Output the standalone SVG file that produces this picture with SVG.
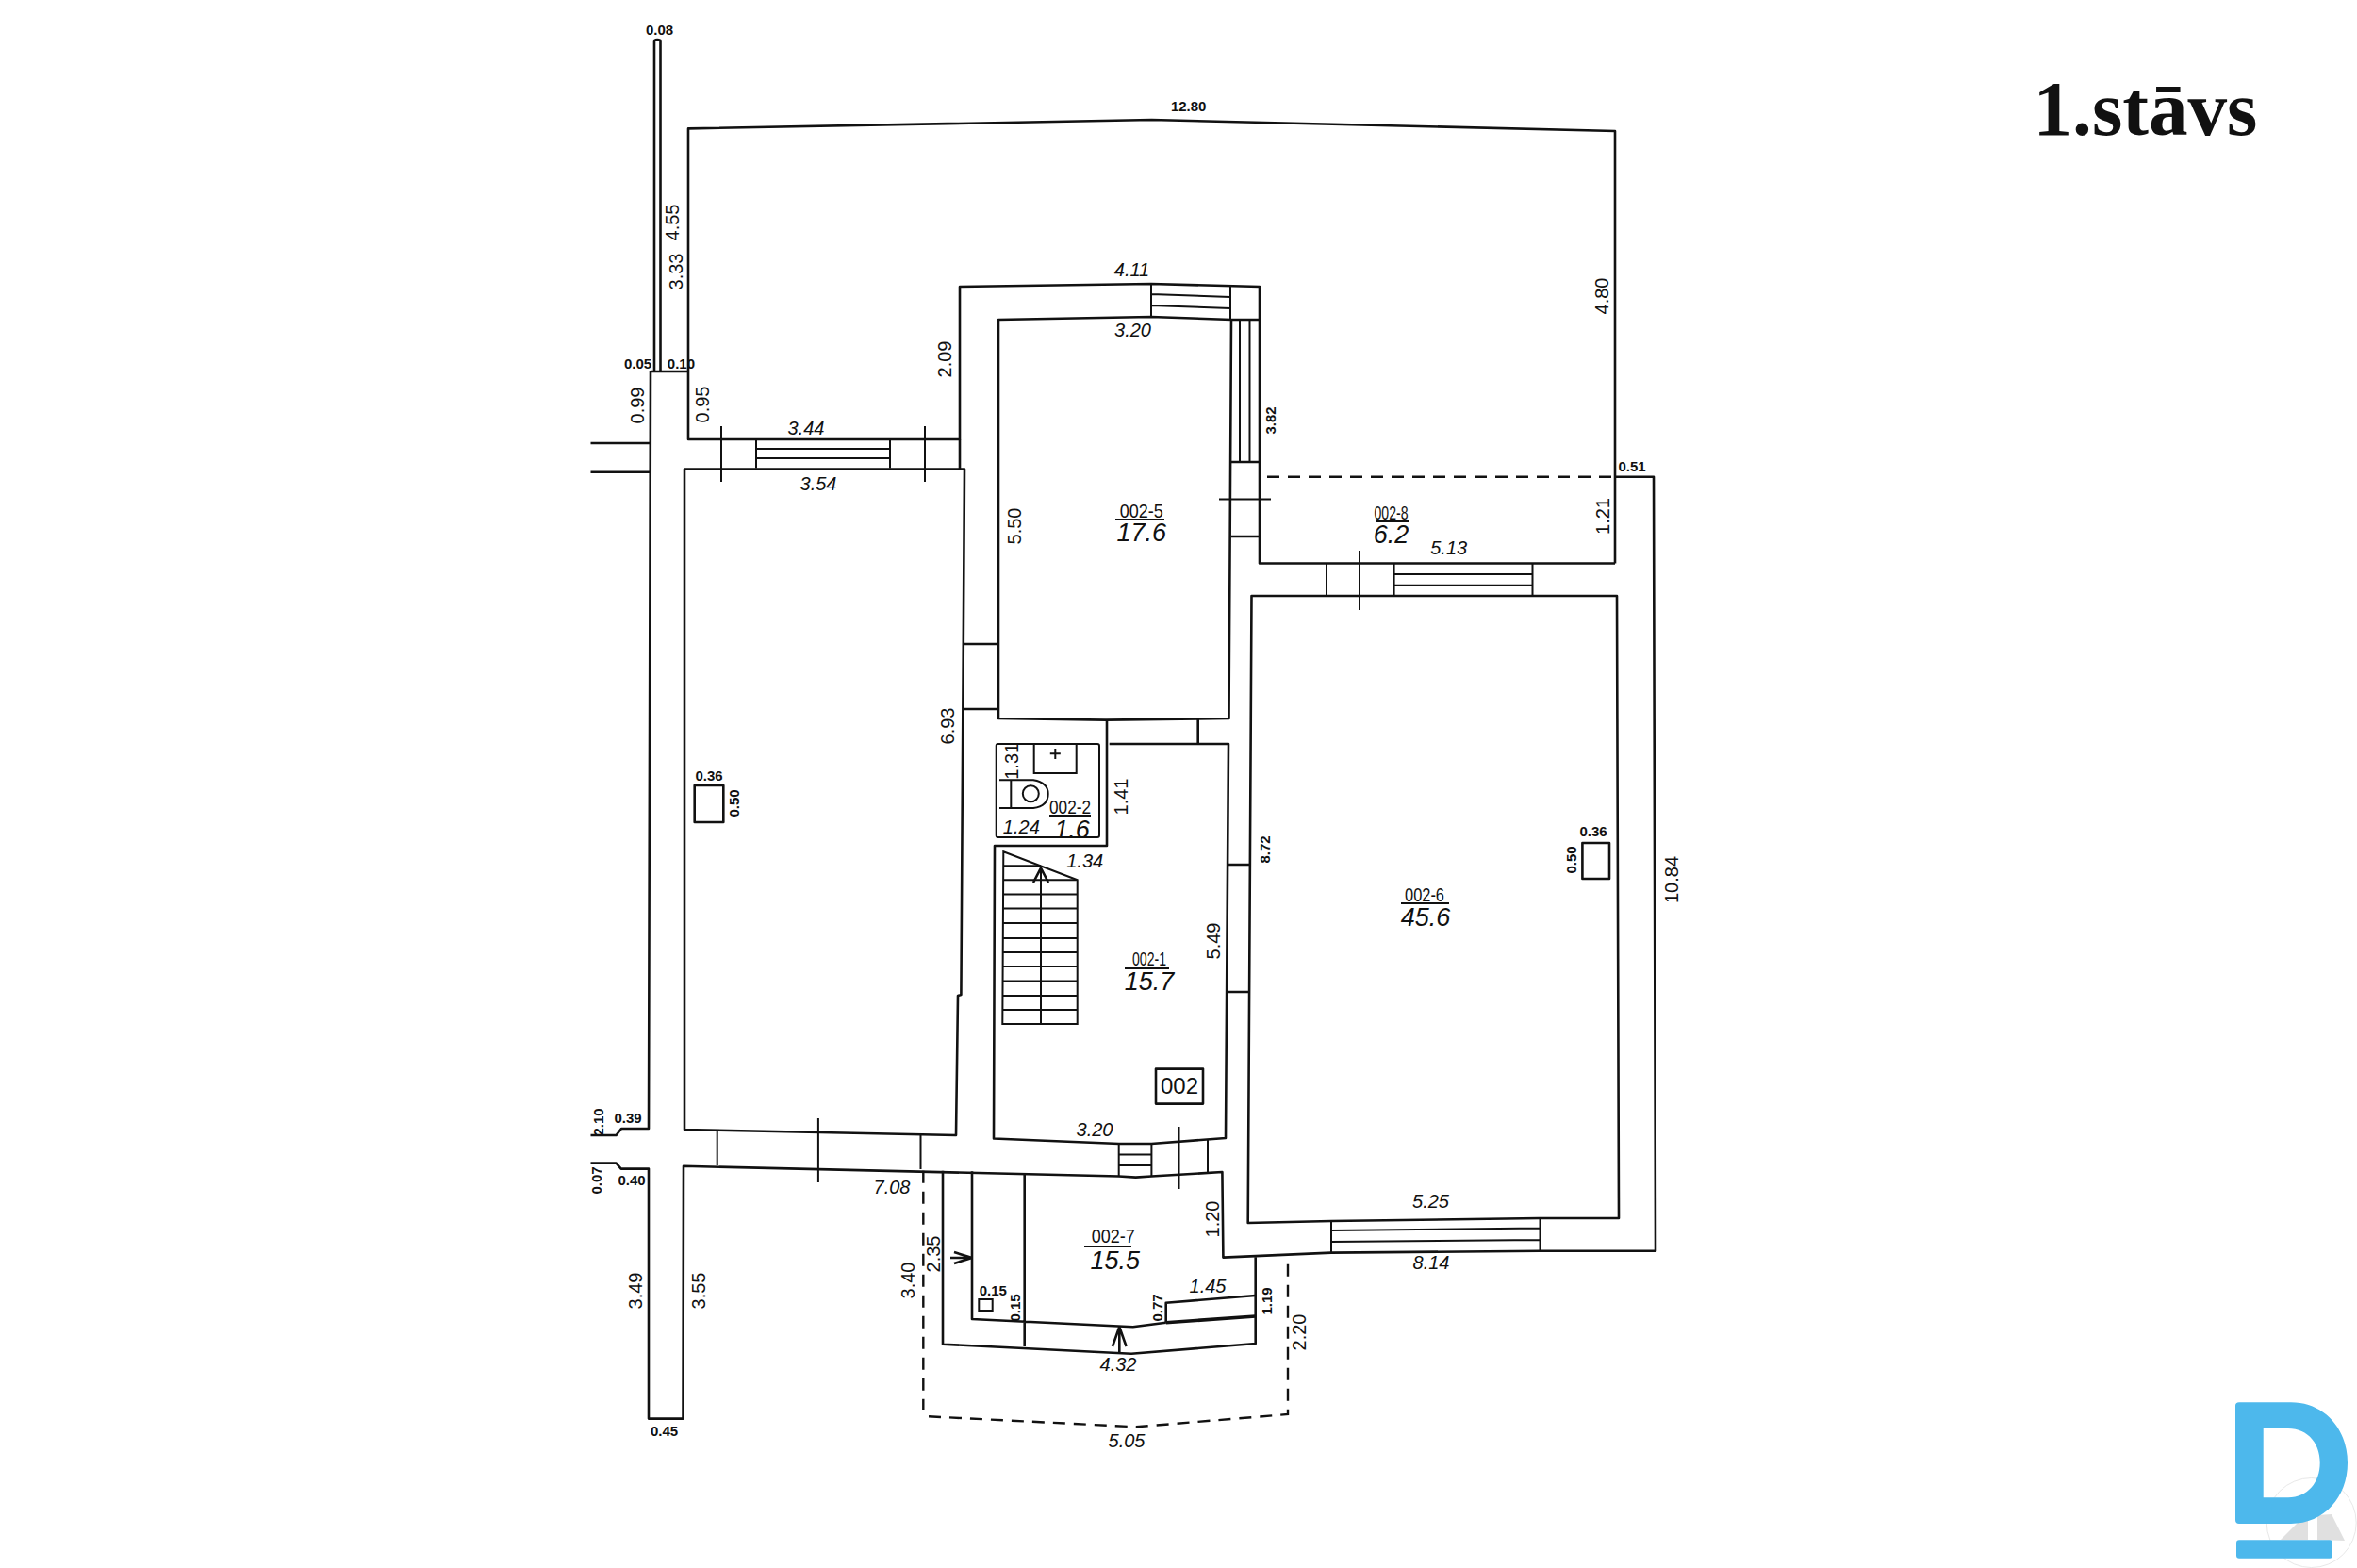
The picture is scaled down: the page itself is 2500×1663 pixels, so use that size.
<svg xmlns="http://www.w3.org/2000/svg" width="2500" height="1663" viewBox="0 0 2500 1663">
<style>
.w{fill:none;stroke:#111;stroke-width:2.6;stroke-linejoin:round}
.t{fill:none;stroke:#111;stroke-width:2}
.k{fill:none;stroke:#111;stroke-width:3.6}
.da{fill:none;stroke:#111;stroke-width:2.4;stroke-dasharray:13 9}
text{font-family:"Liberation Sans",Arial,sans-serif;fill:#111;text-anchor:middle}
.d{font-size:20px;font-style:italic}
.v{font-size:20px}
.s{font-size:15px;font-weight:bold}
.r{font-size:21px}
.a{font-size:27px;font-style:italic}
</style>
<rect width="2500" height="1663" fill="#fff"/>
<g id="walls">
<path class="w" d="M694 394V43Q697 41 700.500 43V394"/>
<path class="w" d="M690 394H730M690 394L688 1197H659L653.600 1204H626.500M626.500 1233.600H653.600L658.700 1239.600H688V1504.600H724.500L725 1236.800L1186.700 1247.500L1204.600 1248.600L1221.400 1247.500L1296.400 1243L1297.400 1333.600L1412 1328.600L1632.600 1326.800H1756L1754 505.700H1713M1713 597.500V139L1221.400 127L730 136.400V466H1018V304L1221 301L1336 304V597.500H1713"/>
<path class="w" d="M626.500 470H690M626.500 500.700H690"/>
<path class="w" d="M726 1198V497.500H1023L1019.400 1055L1016 1056L1014 1204Z"/>
<path class="w" d="M1018 466V497.500"/>
<path class="w" d="M1059 339L1221 336L1306 339L1303.500 762L1173 763.600L1059 762ZM1306 339H1336"/>
<path class="w" d="M1327.500 632H1715L1717 1292H1632.600L1412 1295L1323.700 1297Z"/>
<path class="w" d="M1174 763V897H1055L1054 1207.500L1186.700 1213H1221.400L1300 1207L1303 789H1176.700"/>
<path class="w" d="M1270.700 762V789M1023 683H1058M1023 752H1058M1306 569H1335M1306 490H1335M1302 917H1325M1301 1052H1324"/>
</g>
<g id="windows">
<path class="t" d="M802 466V496.400M944 466V496.400M802 476H944M802 486H944"/>
<path class="t" d="M1221 301V336M1305 304V339M1221 312L1305 315M1221 324L1305 327"/>
<path class="t" d="M1315 339V490M1325.500 339V490"/>
<path class="t" d="M1407 597.500V631.400M1478.600 597.500V631.400M1625.500 597.500V631.400M1478.600 609H1625.500M1478.600 620.700H1625.500"/>
<path class="t" d="M1412 1295V1328.600M1633.500 1292V1326.800M1412 1305L1633.500 1302.500M1412 1317L1633.500 1315"/>
<path class="t" d="M1186.700 1213V1247.500M1221.400 1213V1247.500M1186.700 1224.600H1221.400M1186.700 1236H1221.400"/>
<path class="t" d="M760.700 1199.600V1236M976.500 1204V1240M1281 1209V1244"/>
</g>
<g id="ticks">
<path class="t" d="M765 452V511M981 452V511M1293 529.600H1348M1442 584V647M867.900 1186V1254M1250.500 1195V1261"/>
</g>
<g id="fixtures">
<rect class="t" x="1056.700" y="789" width="109.300" height="99" rx="2"/>
<path class="t" d="M1096.700 790V820H1141.700V790M1119.300 794V805M1113.800 799.300H1124.800"/>
<path class="t" d="M1060 827.300H1096Q1111.700 830 1111.700 842Q1111.700 855 1096 857H1060M1072.300 827.300V857"/>
<circle class="t" cx="1093.300" cy="841.700" r="8.500"/>
<path class="t" d="M1064.300 903.300L1142.700 933.300V1086H1063.300ZM1104 920.700V1086"/>
<path class="t" d="M1064 918.300H1104M1064 933.300H1142M1064 948.500H1142M1064 963.500H1142M1064 979H1142M1064 995H1142M1064 1010H1142M1064 1025H1142M1064 1040.500H1142M1064 1056H1142M1064 1071H1142"/>
<path class="w" d="M1096 936L1104 920.700L1112 936"/>
<rect class="w" x="736.700" y="833" width="30.600" height="39"/>
<rect class="w" x="1678.400" y="894" width="28.600" height="38"/>
<rect class="t" x="1038.300" y="1378" width="14.400" height="12"/>
<rect x="1226" y="1133.600" width="50" height="37" class="w"/>
</g>
<g id="entry">
<path class="w" d="M1000 1241.700V1425.700L1200 1435.700L1331.700 1425V1333.300"/>
<path class="w" d="M1031 1242.300V1399L1201.700 1407.300L1236.700 1402.700M1086.700 1245V1428"/>
<path class="k" d="M1236.700 1402.700L1331.700 1396"/>
<path class="w" d="M1236.700 1402.700V1381.700L1331.700 1374"/>
<path class="w" d="M1031 1334L1012 1328M1031 1334L1012 1340M1031 1334H1008"/>
<path class="w" d="M1187.300 1407.300V1435M1180 1428L1187.300 1407.300L1194.600 1428"/>
</g>
<g id="connectors">
<path class="da" d="M1344 505.700H1713"/>
<path class="da" d="M979.300 1241.700V1495M985 1502.300L1205 1513.300L1366 1500V1333.300"/>
</g>
<g id="labels">
<text class="s" x="699.500" y="37">0.08</text>
<text class="s" x="1260.700" y="118">12.80</text>
<text class="v" x="713" y="243" transform="rotate(-90 713 236)">4.55</text>
<text class="v" x="717" y="295" transform="rotate(-90 717 288)">3.33</text>
<text class="s" x="676.500" y="391">0.05</text>
<text class="s" x="722.400" y="391">0.10</text>
<text class="v" x="675.500" y="437" transform="rotate(-90 675.500 430)">0.99</text>
<text class="v" x="745.400" y="436" transform="rotate(-90 745.400 429)">0.95</text>
<text class="d" x="855" y="461">3.44</text>
<text class="d" x="868" y="520">3.54</text>
<text class="v" x="1001.500" y="388" transform="rotate(-90 1001.500 381)">2.09</text>
<text class="d" x="1200.500" y="293">4.11</text>
<text class="d" x="1201.500" y="357">3.20</text>
<text class="s" x="1348" y="451" transform="rotate(-90 1348 446)">3.82</text>
<text class="v" x="1700" y="320" transform="rotate(-90 1700 314)">4.80</text>
<text class="s" x="1731" y="500">0.51</text>
<text class="d" x="1536.700" y="588">5.13</text>
<text class="v" x="1700" y="554" transform="rotate(-90 1700 547.500)">1.21</text>
<text class="v" x="1075.500" y="565" transform="rotate(-90 1075.500 558)">5.50</text>
<text class="v" x="1004.600" y="777" transform="rotate(-90 1004.600 770)">6.93</text>
<text class="s" x="752" y="828">0.36</text>
<text class="s" x="778.600" y="857" transform="rotate(-90 778.600 852)">0.50</text>
<text class="v" x="1073.300" y="814" transform="rotate(-90 1073.300 807.300)">1.31</text>
<text class="d" x="1083.300" y="884">1.24</text>
<text class="v" x="1189" y="852" transform="rotate(-90 1189 845)">1.41</text>
<text class="d" x="1150.700" y="920">1.34</text>
<text class="v" x="1286.700" y="1005" transform="rotate(-90 1286.700 998)">5.49</text>
<text class="s" x="1340.800" y="907" transform="rotate(-90 1340.800 901)">8.72</text>
<text class="s" x="1690" y="887">0.36</text>
<text class="s" x="1666.500" y="917" transform="rotate(-90 1666.500 912)">0.50</text>
<text class="v" x="1772.600" y="940" transform="rotate(-90 1772.600 933)">10.84</text>
<text class="d" x="1517.500" y="1281">5.25</text>
<text class="d" x="1518" y="1346">8.14</text>
<text class="d" x="1161" y="1205">3.20</text>
<text class="v" x="1286" y="1300" transform="rotate(-90 1286 1293)">1.20</text>
<text class="d" x="946" y="1266">7.08</text>
<text class="v" x="674" y="1376" transform="rotate(-90 674 1369)">3.49</text>
<text class="v" x="741" y="1376" transform="rotate(-90 741 1369)">3.55</text>
<text class="s" x="704.600" y="1523">0.45</text>
<text class="s" x="666" y="1191">0.39</text>
<text class="s" x="634.700" y="1195" transform="rotate(-90 634.700 1190)">2.10</text>
<text class="s" x="633" y="1257" transform="rotate(-90 633 1252)">0.07</text>
<text class="s" x="670" y="1257">0.40</text>
<text class="v" x="990" y="1337" transform="rotate(-90 990 1330)">2.35</text>
<text class="v" x="963" y="1365" transform="rotate(-90 963 1358)">3.40</text>
<text class="s" x="1053.300" y="1374">0.15</text>
<text class="s" x="1077" y="1392" transform="rotate(-90 1077 1387)">0.15</text>
<text class="d" x="1281" y="1371">1.45</text>
<text class="s" x="1228" y="1392" transform="rotate(-90 1228 1387)">0.77</text>
<text class="s" x="1344" y="1385" transform="rotate(-90 1344 1380)">1.19</text>
<text class="v" x="1378" y="1420" transform="rotate(-90 1378 1413)">2.20</text>
<text class="d" x="1186" y="1454">4.32</text>
<text class="d" x="1195" y="1535">5.05</text>
</g>
<g id="room-002-5">
<text class="r" x="1210.700" y="549" textLength="46" lengthAdjust="spacingAndGlyphs">002-5</text>
<path class="t" d="M1183 551H1235"/>
<text class="a" x="1210.700" y="574">17.6</text>
</g>
<g id="room-002-8">
<text class="r" x="1475.500" y="551" textLength="36" lengthAdjust="spacingAndGlyphs">002-8</text>
<path class="t" d="M1459 553H1495"/>
<text class="a" x="1475.500" y="576">6.2</text>
</g>
<g id="room-002-6">
<text class="r" x="1511" y="956" textLength="42" lengthAdjust="spacingAndGlyphs">002-6</text>
<path class="t" d="M1486 958H1537"/>
<text class="a" x="1512" y="982">45.6</text>
</g>
<g id="room-002-2">
<text class="r" x="1135" y="863" textLength="44" lengthAdjust="spacingAndGlyphs">002-2</text>
<path class="t" d="M1113 865H1157"/>
<text class="a" x="1137" y="889">1.6</text>
</g>
<g id="room-002-1">
<text class="r" x="1219" y="1024" textLength="36" lengthAdjust="spacingAndGlyphs">002-1</text>
<path class="t" d="M1193 1027H1240"/>
<text class="a" x="1219" y="1050">15.7</text>
</g>
<g id="room-002-7">
<text class="r" x="1180.700" y="1318" textLength="46" lengthAdjust="spacingAndGlyphs">002-7</text>
<path class="t" d="M1150 1322H1200"/>
<text class="a" x="1182.700" y="1346">15.5</text>
</g>
<g id="apt-002">
<text x="1251" y="1160" font-size="24">002</text>
</g>
<g id="title">
<text x="2275.500" y="143.300" font-size="82" font-weight="bold" textLength="238" lengthAdjust="spacingAndGlyphs" style="font-family:'Liberation Serif','Times New Roman',serif">1.stāvs</text>
</g>
<g id="logo">
<circle cx="2451.700" cy="1615" r="47.500" fill="none" stroke="#e8e8e8" stroke-width="1"/>
<path d="M2419 1633L2440 1612H2448V1633ZM2458 1633V1607L2473 1606L2487 1634Z" fill="#e0e0e0"/>
<path fill="#4db8ec" fill-rule="evenodd" d="M2371 1491Q2371 1487.300 2375 1487.300H2430C2465 1487.300 2490 1515 2490 1551.600C2490 1588 2465 1616 2430 1616H2375Q2371 1616 2371 1612ZM2400.700 1515V1588.300H2427C2448 1588.300 2460.700 1572 2460.700 1551.600C2460.700 1531 2448 1515 2427 1515Z"/>
<rect x="2372" y="1633.300" width="102" height="19.400" rx="3" fill="#4db8ec"/>
</g>
</svg>
